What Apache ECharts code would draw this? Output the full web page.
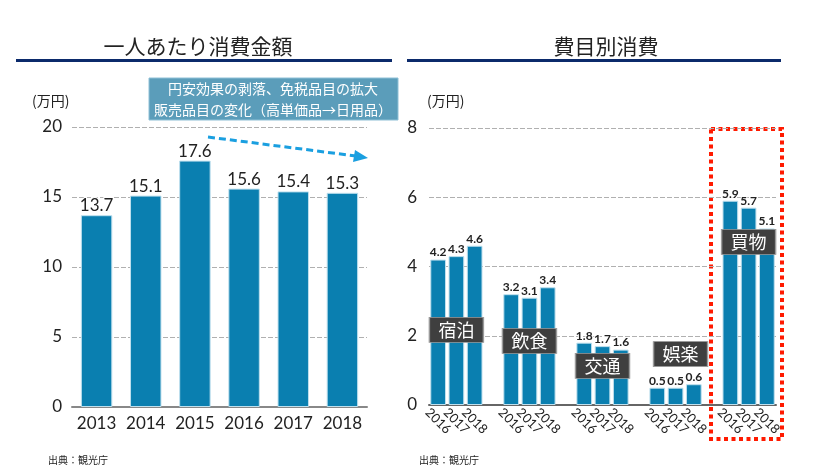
<!DOCTYPE html>
<html><head><meta charset="utf-8">
<script src="https://cdn.jsdelivr.net/npm/echarts@6/dist/echarts.min.js"></script>
<style>html,body{margin:0;padding:0;background:#fff}#c{width:832px;height:470px}</style>
</head><body><div id="c"></div>
<script>
// ---- data ----
const yearsLeft = ['2013','2014','2015','2016','2017','2018'];
const perPerson = [13.7, 15.1, 17.6, 15.6, 15.4, 15.3];
const groups = ['宿泊','飲食','交通','娯楽','買物'];
const yearsRight = ['2016','2017','2018'];
const lodging = [4.2, 4.3, 4.6];
const food = [3.2, 3.1, 3.4];
const transport = [1.8, 1.7, 1.6];
const entertainment = [0.5, 0.5, 0.6];
const shopping = [5.9, 5.7, 5.1];
const leftTitle = '一人あたり消費金額';
const rightTitle = '費目別消費';
const unitLabel = '(万円)';
const sourceText = '出典：観光庁';
const noteLines = ['円安効果の剥落、免税品目の拡大', '販売品目の変化（高単価品→日用品）'];

// build slotted category axis (3 bars per group, 1 empty slot between groups)
const groupValues = [lodging, food, transport, entertainment, shopping];
const slotCats = [], slotVals = [];
groupValues.forEach((vals, gi) => {
  yearsRight.forEach((y, yi) => { slotCats.push(y); slotVals.push(vals[yi]); });
  if (gi < groupValues.length - 1) { slotCats.push(''); slotVals.push(null); }
});

const FONT = '"Noto Sans CJK JP", "Noto Sans", sans-serif';
const NUMFONT = 'Lato, "Noto Sans", sans-serif';
const barColor = '#0a7fb0';
const gridLine = { show: true, lineStyle: { color: '#b0b0b0', type: [5, 2], width: 1 } };

const labelYs = [2.17, 1.85, 1.13, 1.47, 4.71];
const labelOffsets = [0, 0, 0, 5, 0];

const chart = echarts.init(document.getElementById('c'), null, { renderer: 'canvas' });
chart.setOption({
  animation: false,
  textStyle: { fontFamily: FONT },
  grid: [
    { left: 72, right: 465, top: 127, bottom: 63 },
    { left: 429, right: 56, top: 128, bottom: 65 }
  ],
  xAxis: [
    { gridIndex: 0, type: 'category', data: yearsLeft,
      axisLine: { lineStyle: { color: '#888', width: 2 } }, axisTick: { show: false },
      axisLabel: { color: '#222', fontSize: 17, margin: 8, interval: 0, fontFamily: NUMFONT } },
    { gridIndex: 1, type: 'category', data: slotCats,
      axisLine: { lineStyle: { color: '#666', width: 2 } }, axisTick: { show: false },
      axisLabel: { color: '#222', fontSize: 13, interval: 0, rotate: -45, margin: 16,
        align: 'center', verticalAlign: 'middle', fontFamily: NUMFONT } }
  ],
  yAxis: [
    { gridIndex: 0, type: 'value', min: 0, max: 20, interval: 5,
      axisLine: { show: false }, axisTick: { show: false }, splitLine: gridLine,
      axisLabel: { color: '#222', fontSize: 17, margin: 10, fontFamily: NUMFONT } },
    { gridIndex: 1, type: 'value', min: 0, max: 8, interval: 2,
      axisLine: { show: false }, axisTick: { show: false }, splitLine: gridLine,
      axisLabel: { color: '#222', fontSize: 17, margin: 12, fontFamily: NUMFONT } }
  ],
  series: [
    { type: 'bar', xAxisIndex: 0, yAxisIndex: 0, data: perPerson, barWidth: '64%',
      itemStyle: { color: barColor, borderColor: '#bfe0ee', borderWidth: 1 },
      label: { show: true, position: 'top', distance: 1, color: '#222', fontSize: 17,
        textBorderColor: '#fff', textBorderWidth: 2, fontFamily: NUMFONT } },
    { type: 'bar', xAxisIndex: 1, yAxisIndex: 1, data: slotVals, barWidth: '86%',
      itemStyle: { color: barColor, borderColor: '#bfe0ee', borderWidth: 1 },
      label: { show: true, position: 'top', distance: 1, color: '#222', fontSize: 12, fontWeight: 'bold',
        textBorderColor: '#fff', textBorderWidth: 2, fontFamily: NUMFONT },
      markPoint: {
        symbol: 'rect', symbolSize: [54, 25], silent: true,
        itemStyle: { color: '#3f3f3f', borderColor: '#9a9a9a', borderWidth: 1 },
        label: { show: true, position: 'inside', color: '#fff', fontSize: 18, fontFamily: FONT,
          formatter: p => p.name },
        data: groups.map((g, i) => ({ name: g, coord: [i * 4 + 1, labelYs[i]], symbolOffset: [labelOffsets[i], 0] }))
      } }
  ],
  graphic: [
    { type: 'text', x: 198, y: 46, style: { text: leftTitle, fill: '#222', font: '21px ' + FONT, textAlign: 'center', textVerticalAlign: 'middle' } },
    { type: 'rect', shape: { x: 16, y: 59, width: 376, height: 3 }, style: { fill: '#0b2a6b' } },
    { type: 'text', x: 606, y: 46, style: { text: rightTitle, fill: '#222', font: '21px ' + FONT, textAlign: 'center', textVerticalAlign: 'middle' } },
    { type: 'rect', shape: { x: 407, y: 59, width: 374, height: 3 }, style: { fill: '#0b2a6b' } },
    { type: 'text', x: 32, y: 101, style: { text: unitLabel, fill: '#222', font: '14px ' + FONT, textVerticalAlign: 'middle' } },
    { type: 'text', x: 427, y: 101, style: { text: unitLabel, fill: '#222', font: '14px ' + FONT, textVerticalAlign: 'middle' } },
    { type: 'rect', shape: { x: 149, y: 78, width: 249, height: 42 }, style: { fill: '#5b9dba', stroke: '#8fc0d6', lineWidth: 1 } },
    { type: 'text', x: 273, y: 89, style: { text: noteLines[0], fill: '#fff', font: '14px ' + FONT, textAlign: 'center', textVerticalAlign: 'middle' } },
    { type: 'text', x: 273, y: 110, style: { text: noteLines[1], fill: '#fff', font: '14px ' + FONT, textAlign: 'center', textVerticalAlign: 'middle' } },
    { type: 'line', shape: { x1: 208, y1: 137, x2: 356, y2: 156 }, style: { stroke: '#1a9fe0', lineWidth: 3, lineDash: [7, 4] } },
    { type: 'polygon', shape: { points: [[368, 158], [355, 150], [353, 162]] }, style: { fill: '#1a9fe0' } },
    { type: 'rect', shape: { x: 711, y: 129, width: 71, height: 310 }, style: { fill: 'none', stroke: '#ff1a00', lineWidth: 4, lineDash: [4, 3.5] } },
    { type: 'text', x: 48, y: 460, style: { text: sourceText, fill: '#222', font: '10px ' + FONT, textVerticalAlign: 'middle' } },
    { type: 'text', x: 419, y: 460, style: { text: sourceText, fill: '#222', font: '10px ' + FONT, textVerticalAlign: 'middle' } }
  ]
});
</script>
</body></html>
